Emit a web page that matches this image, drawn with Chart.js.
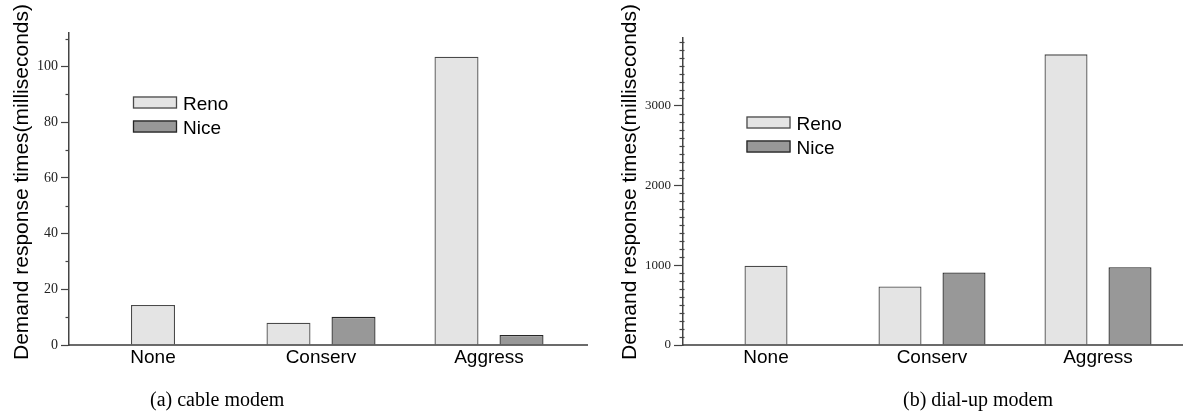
<!DOCTYPE html>
<html><head><meta charset="utf-8">
<script src="https://cdn.jsdelivr.net/npm/chart.js@4.4.0/dist/chart.umd.min.js"></script>
<style>
html,body{margin:0;padding:0;background:#fff;width:1191px;height:419px;overflow:hidden;position:relative}
canvas{position:absolute;top:0}
.cap{position:absolute;font-family:'Liberation Serif','Times New Roman',serif;font-size:20px;line-height:20px;color:#000;white-space:nowrap}
</style></head><body>
<canvas id="c1" width="595" height="419" style="left:0"></canvas>
<canvas id="c2" width="596" height="419" style="left:595px"></canvas>
<div class="cap" style="left:150px;top:389px">(a) cable modem</div>
<div class="cap" style="left:903px;top:389px">(b) dial-up modem</div>
<script>
// ---- data ----
const categories = ['None', 'Conserv', 'Aggress'];
const seriesNames = ['Reno', 'Nice'];
const cableReno = [14.4, 8.0, 103.5];
const cableNice = [null, 10.1, 3.6];
const dialReno = [995, 735, 3645];
const dialNice = [null, 910, 975];
const cableTickValues = [0, 20, 40, 60, 80, 100];
const dialTickValues = [0, 1000, 2000, 3000];
const cableMax = 112;
const dialMax = 3850;
const cableMinorStep = 10;
const dialMinorStep = 100;
const yTitle = 'Demand response times(milliseconds)';
const captions = ['(a) cable modem', '(b) dial-up modem'];

Chart.defaults.font.family = "'Liberation Sans', Arial, sans-serif";

const decor = {
  id: 'decor',
  afterDraw(chart, args, o) {
    const ctx = chart.ctx, ca = chart.chartArea, y = chart.scales.y;
    ctx.save();
    // baseline (x axis line)
    ctx.strokeStyle = '#3a3a3a'; ctx.lineWidth = 1.5;
    ctx.beginPath(); ctx.moveTo(ca.left, ca.bottom); ctx.lineTo(ca.right + o.ext, ca.bottom); ctx.stroke();
    // minor ticks
    ctx.lineWidth = 1.2; ctx.strokeStyle = '#444';
    for (let v = 0; v <= y.max + 1e-9; v += o.minor) {
      if (o.majors.includes(Math.round(v))) continue;
      const py = Math.round(y.getPixelForValue(v)) + 0.5;
      ctx.beginPath(); ctx.moveTo(ca.left - 3.5, py); ctx.lineTo(ca.left + o.cross, py); ctx.stroke();
    }
    // axis title
    ctx.fillStyle = '#000';
    ctx.font = "21px 'Liberation Sans', Arial, sans-serif";
    ctx.textAlign = 'center'; ctx.textBaseline = 'alphabetic';
    ctx.translate(o.titleX, o.titleY); ctx.rotate(-Math.PI / 2);
    ctx.fillText(yTitle, 0, 0);
    ctx.setTransform(1, 0, 0, 1, 0, 0);
    // legend
    ctx.font = "19px 'Liberation Sans', Arial, sans-serif";
    ctx.textAlign = 'left';
    chart.data.datasets.forEach((ds, i) => {
      const bx = o.legX, by = o.legY + i * 24;
      ctx.fillStyle = ds.backgroundColor;
      ctx.fillRect(bx, by, 44, 12);
      ctx.strokeStyle = ds.borderColor; ctx.lineWidth = 1.3;
      ctx.strokeRect(bx + 0.5, by + 0.5, 43, 11);
      ctx.fillStyle = '#000';
      ctx.fillText(ds.label, bx + 50, by + 6 + 7);
    });
    ctx.restore();
  }
};

function makeChart(id, reno, nice, tickVals, yMax, cfg) {
  return new Chart(document.getElementById(id), {
    type: 'bar',
    data: {
      labels: categories,
      datasets: [
        { label: seriesNames[0], data: reno, backgroundColor: '#e4e4e4', borderColor: '#4a4a4a', borderWidth: 1.3 },
        { label: seriesNames[1], data: nice, backgroundColor: '#989898', borderColor: '#262626', borderWidth: 1.3 }
      ]
    },
    options: {
      responsive: false, animation: false, devicePixelRatio: 1,
      layout: { padding: { top: cfg.top, right: cfg.right, left: 0, bottom: 0 } },
      datasets: { bar: { categoryPercentage: cfg.cp, barPercentage: 0.677, maxBarThickness: cfg.bw, skipNull: true } },
      plugins: {
        legend: { display: false }, tooltip: { enabled: false },
        decor: { ext: cfg.ext, minor: cfg.minor, majors: tickVals, cross: cfg.cross, titleX: cfg.titleX, titleY: 182, legX: cfg.legX, legY: cfg.legY }
      },
      scales: {
        x: {
          type: 'category', offset: true,
          grid: { display: false, drawTicks: false }, border: { display: false },
          ticks: { color: '#000', font: { size: 19 }, padding: 1, maxRotation: 0, autoSkip: false },
          afterFit: (s) => { s.height = 419 - cfg.bottom; s.paddingLeft = 0; s.paddingRight = 0; s.paddingTop = 0; s.paddingBottom = 0; }
        },
        y: {
          min: 0, max: yMax,
          grid: { drawOnChartArea: false, drawTicks: true, tickLength: cfg.tl, color: '#444', tickWidth: 1.2 },
          border: { display: true, color: '#444', width: 1.5 },
          ticks: { color: '#222', font: { size: cfg.tf, family: "'Liberation Serif', 'Times New Roman', serif" }, padding: 3, autoSkip: false, callback: (v) => String(v) },
          afterBuildTicks: (s) => { s.ticks = tickVals.map(v => ({ value: v })); },
          afterFit: (s) => { s.width = cfg.left; s.paddingLeft = 0; s.paddingRight = 0; s.paddingTop = 0; s.paddingBottom = 0; }
        }
      }
    },
    plugins: [decor]
  });
}

makeChart('c1', cableReno, cableNice, cableTickValues, cableMax,
  { top: 33, right: 22, left: 69, bottom: 345, cp: 0.774, bw: 44, ext: 15, minor: cableMinorStep, cross: 0, tl: 8, tf: 14, titleX: 28, legX: 133, legY: 96.5 });
makeChart('c2', dialReno, dialNice, dialTickValues, dialMax,
  { top: 38, right: 10, left: 88, bottom: 345, cp: 0.771, bw: 43, ext: 2, minor: dialMinorStep, cross: 1.5, tl: 9, tf: 13, titleX: 41, legX: 151.5, legY: 116.5 });
</script>
</body></html>
